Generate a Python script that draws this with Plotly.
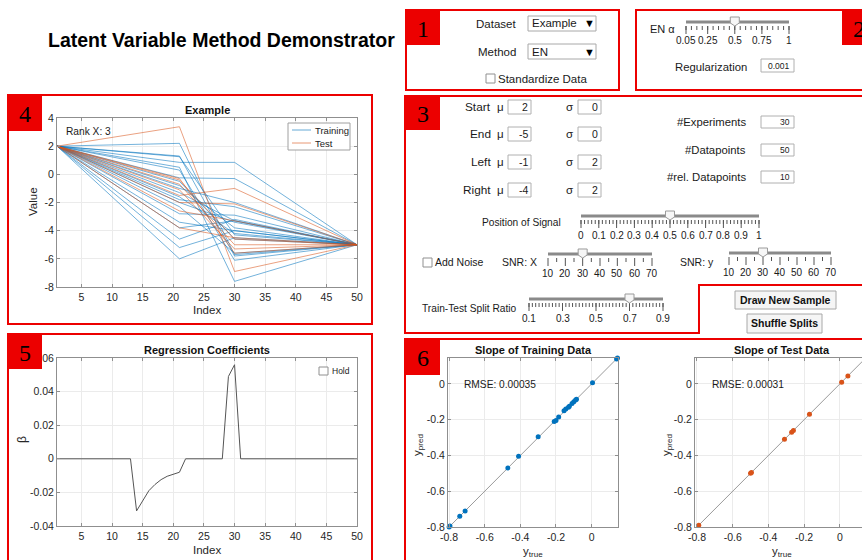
import plotly.graph_objects as go

W, H = 862, 560


def X(p):
    return p / W


def Y(p):
    return 1 - p / H


FONT = "Liberation Sans, Arial, Helvetica, sans-serif"
SERIF = "Liberation Serif, Times New Roman, serif"
AXC = "#8f8f8f"
GRID = "#ebebeb"
RED = "rgb(236,0,0)"
BLUE = "#0072BD"
ORANGE = "#D95319"

# ---------------- data ----------------
index_knots = [1, 21, 30, 50]
start_mu = 2
end_mu = -5
train_left = [2.2, 1.3, 1.25, 0.85, 0.5, 0.3, -0.25, -0.5, -0.8, -1.0, -1.3,
              -1.6, -2.0, -2.3, -2.8, -3.4, -3.8, -4.6, -5.2, -6.0, -1.8]
train_right = [-5.7, -5.8, -4.3, 0.85, -7.6, -6.1, -0.3, -4.6, -3.8, -2.0, -3.3,
               -4.2, -3.4, -5.6, -2.9, -4.0, -3.3, -3.2, -4.0, -4.5, -2.3]
test_left = [3.38, -0.4, -0.7, -1.5, -2.0, -3.8, -1.1, -0.3, -2.6]
test_right = [-6.9, -4.6, -5.0, -1.0, -2.1, -4.5, -5.3, -5.6, -3.3]

coef_index = list(range(1, 51))
coef_values = [0, 0, 0, 0, 0, 0, 0, 0, 0, 0, 0, 0, 0,
               -0.031, -0.025, -0.019, -0.0153, -0.0124, -0.0104, -0.009, -0.008,
               0, 0, 0, 0, 0, 0, 0,
               0.049, 0.056,
               0, 0, 0, 0, 0, 0, 0, 0, 0, 0, 0, 0, 0, 0, 0, 0, 0, 0, 0, 0]

train_true = [-0.80, -0.795, -0.74, -0.71, -0.47, -0.41, -0.30, -0.21, -0.20, -0.185,
              -0.155, -0.145, -0.13, -0.125, -0.11, -0.10, -0.09, -0.085, 0.005, 0.14, 0.145]
train_pred = [-0.80, -0.795, -0.74, -0.71, -0.47, -0.405, -0.295, -0.21, -0.205, -0.185,
              -0.15, -0.14, -0.13, -0.125, -0.11, -0.10, -0.09, -0.085, 0.006, 0.14, 0.145]
test_true = [-0.79, -0.50, -0.495, -0.31, -0.27, -0.26, -0.17, 0.01, 0.045]
test_pred = [-0.79, -0.50, -0.495, -0.31, -0.27, -0.26, -0.17, 0.01, 0.045]
diag_vals = [-0.8, 0.145]

idx_ticks = [5, 10, 15, 20, 25, 30, 35, 40, 45, 50]
val_ticks = [-8, -6, -4, -2, 0, 2, 4]
val_labels = ["-8", "-6", "-4", "-2", "0", "2", "4"]
coef_ticks = [-0.04, -0.02, 0, 0.02, 0.04, 0.06]
coef_labels = ["-0.04", "-0.02", "0", "0.02", "0.04", "0.06"]
slope_ticks = [-0.8, -0.6, -0.4, -0.2, 0]
slope_labels = ["-0.8", "-0.6", "-0.4", "-0.2", "0"]

# ---------------- figure ----------------
fig = go.Figure()

for L, R in zip(train_left, train_right):
    fig.add_trace(go.Scatter(x=index_knots, y=[start_mu, L, R, end_mu], mode="lines",
                             line=dict(color="rgba(0,114,189,0.55)", width=1),
                             xaxis="x", yaxis="y", showlegend=False, hoverinfo="skip"))
for L, R in zip(test_left, test_right):
    fig.add_trace(go.Scatter(x=index_knots, y=[start_mu, L, R, end_mu], mode="lines",
                             line=dict(color="rgba(217,83,25,0.55)", width=1),
                             xaxis="x", yaxis="y", showlegend=False, hoverinfo="skip"))

fig.add_trace(go.Scatter(x=coef_index, y=coef_values, mode="lines",
                         line=dict(color="#555555", width=1), xaxis="x2", yaxis="y2",
                         showlegend=False))

fig.add_trace(go.Scatter(x=diag_vals, y=diag_vals, mode="lines", line=dict(color="#9a9a9a", width=1),
                         xaxis="x3", yaxis="y3", showlegend=False))
fig.add_trace(go.Scatter(x=train_true, y=train_pred, mode="markers",
                         marker=dict(color=BLUE, size=5), xaxis="x3", yaxis="y3",
                         showlegend=False, cliponaxis=False))
fig.add_trace(go.Scatter(x=diag_vals, y=diag_vals, mode="lines", line=dict(color="#9a9a9a", width=1),
                         xaxis="x4", yaxis="y4", showlegend=False))
fig.add_trace(go.Scatter(x=test_true, y=test_pred, mode="markers",
                         marker=dict(color=ORANGE, size=5), xaxis="x4", yaxis="y4",
                         showlegend=False))


def ax(domain, rng, tickvals, ticktext, anchor, mirror="ticks"):
    return dict(domain=domain, range=rng, tickvals=tickvals, ticktext=ticktext, anchor=anchor,
                showline=True, linecolor=AXC, linewidth=1, mirror=mirror, ticks="inside",
                ticklen=3, tickcolor=AXC, showgrid=True, gridcolor=GRID, gridwidth=1,
                zeroline=False, tickfont=dict(family=FONT, size=10.5, color="#262626"),
                automargin=False, fixedrange=True)


idx_text = [str(v) for v in idx_ticks]
layout = dict(
    width=W, height=H, margin=dict(l=0, r=0, t=0, b=0), autosize=False,
    paper_bgcolor="white", plot_bgcolor="white", showlegend=False,
    font=dict(family=FONT),
    xaxis=ax([X(57), X(357)], [1, 50], idx_ticks, idx_text, "y"),
    yaxis=ax([Y(287), Y(118)], [-8, 4], val_ticks, val_labels, "x"),
    xaxis2=ax([X(57), X(357)], [1, 50], idx_ticks, idx_text, "y2"),
    yaxis2=ax([Y(526), Y(358)], [-0.04, 0.06], coef_ticks, coef_labels, "x2"),
    xaxis3=ax([X(448), X(618)], [-0.806, 0.148], slope_ticks, slope_labels, "y3"),
    yaxis3=ax([Y(527), Y(358)], [-0.8, 0.145], slope_ticks, slope_labels, "x3"),
    xaxis4=ax([X(695), 1.0], [-0.811, 0.124], slope_ticks, slope_labels, "y4"),
    yaxis4=ax([Y(527), Y(358)], [-0.8, 0.145], slope_ticks, slope_labels, "x4", mirror=False),
)
fig.update_layout(**layout)

shapes = []
anns = []


def rect(x0, y0, x1, y1, line="#a0a0a0", width=1, fill="white"):
    shapes.append(dict(type="rect", xref="paper", yref="paper", x0=X(x0), y0=Y(y0), x1=X(x1), y1=Y(y1),
                       line=dict(color=line, width=width), fillcolor=fill, layer="above"))


def seg(x0, y0, x1, y1, color="#555", width=1):
    shapes.append(dict(type="line", xref="paper", yref="paper", x0=X(x0), y0=Y(y0), x1=X(x1), y1=Y(y1),
                       line=dict(color=color, width=width), layer="above"))


def poly(points, line, width=1, fill="rgba(0,0,0,0)"):
    d = "M" + " L".join("%.5f,%.5f" % (X(a), Y(b)) for a, b in points) + " Z"
    shapes.append(dict(type="path", xref="paper", yref="paper", path=d,
                       line=dict(color=line, width=width), fillcolor=fill, layer="above"))


def txt(x, y, s, size=11.5, xa="center", bold=False, color="#1a1a1a", angle=0, family=FONT):
    anns.append(dict(x=X(x), y=Y(y), xref="paper", yref="paper", text=("<b>%s</b>" % s if bold else s),
                     showarrow=False, xanchor=xa, yanchor="middle", textangle=angle,
                     font=dict(size=size, color=color, family=family), borderpad=0))


def slider(x0, x1, yt, vmin, vmax, value, minor, major, labels):
    def pos(v):
        return x0 + (v - vmin) / (vmax - vmin) * (x1 - x0)
    seg(x0, yt, x1, yt, "#8a8a8a", 3)
    for v in minor:
        seg(pos(v), yt + 4, pos(v), yt + 8, "#555", 1)
    for v in major:
        seg(pos(v), yt + 4, pos(v), yt + 12, "#555", 1)
    for v, s in labels:
        txt(pos(v), yt + 19, s, size=10)
    xv = pos(value)
    poly([(xv - 4.5, yt - 5), (xv + 4.5, yt - 5), (xv + 4.5, yt + 1), (xv, yt + 4), (xv - 4.5, yt + 1)],
         "#9a9a9a", 1, "#f6f6f6")


# ---- main title
txt(221.5, 40, "Latent Variable Method Demonstrator", size=19.5, bold=True, color="black")

# ---- red panels
poly([(406, 10), (619, 10), (619, 90), (406, 90)], RED, 2)
poly([(636, 10), (880, 10), (880, 90), (636, 90)], RED, 2)
poly([(405, 96), (880, 96), (880, 285), (699, 285), (699, 333), (405, 333)], RED, 2)
poly([(8, 95), (372, 95), (372, 324), (8, 324)], RED, 2)
poly([(8, 334), (372, 334), (372, 600), (8, 600)], RED, 2)
poly([(405, 339), (880, 339), (880, 600), (405, 600)], RED, 2)

for (x0, y0, x1, y1, s) in [(406, 10, 440, 45, "1"), (842, 10, 876, 45, "2"), (405, 96, 440, 130, "3"),
                            (8, 95, 42, 131, "4"), (8, 334, 42, 369, "5"), (405, 339, 440, 375, "6")]:
    rect(x0, y0, x1, y1, line=RED, width=0, fill=RED)
    txt((x0 + x1) / 2, (y0 + y1) / 2 + 1, s, size=24, color="black", family=SERIF)

# ---- panel 1
txt(517, 24, "Dataset", xa="right")
rect(528, 16, 596, 31, line="#a8a8a8")
txt(531, 23.5, "Example", xa="left")
txt(589, 23.5, "▼", size=11, color="black")
txt(517, 52, "Method", xa="right")
rect(528, 44, 596, 59, line="#a8a8a8")
txt(531, 51.5, "EN", xa="left")
txt(589, 51.5, "▼", size=11, color="black")
rect(486, 74, 495, 83, line="#909090")
txt(497, 79, "Standardize Data", xa="left")

# ---- panel 2
txt(649, 29, "EN α", xa="left", size=11)
en_minor = [0.05 * k for k in range(1, 21)]
slider(686, 789, 22, 0.05, 1.0, 0.5, en_minor, [0.05, 0.25, 0.5, 0.75, 1.0],
       [(0.05, "0.05"), (0.25, "0.25"), (0.5, "0.5"), (0.75, "0.75"), (1.0, "1")])
txt(711, 67, "Regularization", size=11.3)
rect(761, 59, 794, 72, line="#b0b0b0")
txt(791, 65.5, "0.001", xa="right", size=8.5)

# ---- panel 3
rows = [("Start", 107, "2", "0"), ("End", 134, "-5", "0"), ("Left", 162, "-1", "2"), ("Right", 190, "-4", "2")]
for name, yy, mu, sg in rows:
    txt(492, yy, name, xa="right", size=11.8)
    txt(500, yy, "μ", size=11.5)
    rect(508, yy - 7, 531, yy + 7, line="#b0b0b0")
    txt(529, yy, mu, xa="right", size=10.5)
    txt(569, yy, "σ", size=11.5)
    rect(578, yy - 7, 601, yy + 7, line="#b0b0b0")
    txt(599, yy, sg, xa="right", size=10.5)

for name, yy, val in [("#Experiments", 122, "30"), ("#Datapoints", 150, "50"), ("#rel. Datapoints", 177, "10")]:
    txt(747, yy, name, xa="right", size=11.3)
    rect(761, yy - 6, 794, yy + 6, line="#b0b0b0")
    txt(791, yy, val, xa="right", size=8.5)

txt(521, 223, "Position of Signal", size=10.2)
pos_minor = [k / 50 for k in range(0, 51)]
pos_major = [k / 10 for k in range(0, 11)]
pos_labels = [(k / 10, "0" if k == 0 else ("1" if k == 10 else "0.%d" % k)) for k in range(0, 11)]
slider(581, 759, 216, 0.0, 1.0, 0.5, pos_minor, pos_major, pos_labels)

rect(423, 258, 432, 267, line="#909090")
txt(434, 262, "Add Noise", xa="left", size=10.5)
txt(519, 262, "SNR: X", size=10.5)
snr_minor = [15, 25, 35, 45, 55, 65]
snr_major = [10, 20, 30, 40, 50, 60, 70]
snr_labels = [(v, str(v)) for v in snr_major]
slider(548, 652, 254, 10, 70, 30, snr_minor, snr_major, snr_labels)
txt(697, 262, "SNR: y", size=10.5)
slider(729, 831, 253, 10, 70, 30, snr_minor, snr_major, snr_labels)

txt(470, 308, "Train-Test Split Ratio", size=10.2)
tt_minor = [0.1 + 0.02 * k for k in range(0, 41)]
tt_major = [0.1, 0.3, 0.5, 0.7, 0.9]
slider(529, 663, 299, 0.1, 0.9, 0.7, tt_minor, tt_major, [(v, str(v)) for v in tt_major])

rect(735, 291, 836, 309, line="#a8a8a8", fill="#f5f5f5")
txt(785.5, 300, "Draw New Sample", size=10.5, bold=True, color="#111")
rect(747, 314, 822, 333, line="#a8a8a8", fill="#f5f5f5")
txt(784.5, 323.5, "Shuffle Splits", size=10.5, bold=True, color="#111")

# ---- panel 4 annotations
txt(207, 110, "Example", size=11, bold=True, color="#111")
txt(65, 131, "Rank X: 3", xa="left", size=10.2)
txt(33, 202, "Value", size=11.5, angle=-90, color="#262626")
txt(207, 310, "Index", size=11.5, color="#262626")
rect(288, 123, 350, 150, line="#a0a0a0")
seg(292, 130, 311, 130, "rgba(0,114,189,0.6)", 1)
seg(292, 143, 311, 143, "rgba(217,83,25,0.6)", 1)
txt(314, 130, "Training", xa="left", size=9.5)
txt(314, 143, "Test", xa="left", size=9.5)

# ---- panel 5 annotations
txt(207, 350, "Regression Coefficients", size=11, bold=True, color="#111")
txt(22, 440, "β", size=12, angle=-90, color="#262626")
txt(207, 550, "Index", size=11.5, color="#262626")
rect(319, 367, 328, 375, line="#909090")
txt(331, 371, "Hold", xa="left", size=8.5)

# ---- panel 6 annotations
txt(533, 350, "Slope of Training Data", size=11, bold=True, color="#111")
txt(782, 350, "Slope of Test Data", size=11, bold=True, color="#111")
txt(463, 384, "RMSE: 0.00035", xa="left", size=10.2)
txt(711, 384, "RMSE: 0.00031", xa="left", size=10.2)
txt(418, 445, "y<sub>pred</sub>", size=11.5, angle=-90, color="#262626")
txt(667, 445, "y<sub>pred</sub>", size=11.5, angle=-90, color="#262626")
txt(533, 552, "y<sub>true</sub>", size=11.5, color="#262626")
txt(782, 552, "y<sub>true</sub>", size=11.5, color="#262626")

fig.update_layout(shapes=shapes, annotations=anns)
fig.write_html("out.html")
